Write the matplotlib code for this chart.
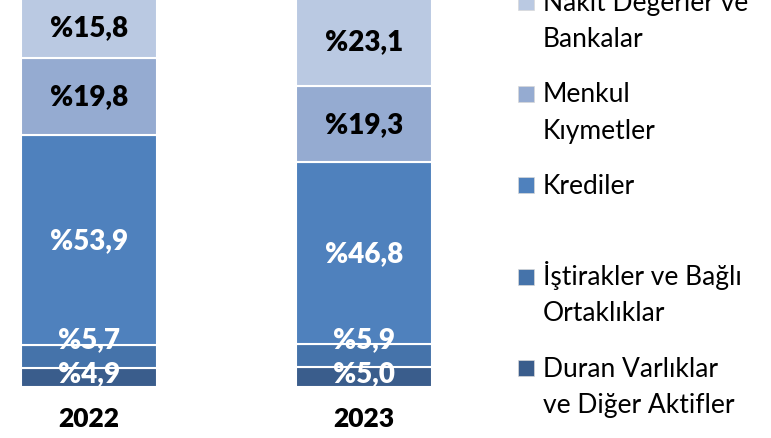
import matplotlib.pyplot as plt
from matplotlib.patches import Rectangle
import numpy as np

years = ['2022', '2023']
# stacked bottom -> top
categories = ['Duran Varlıklar\nve Diğer Aktifler', 'İştirakler ve Bağlı\nOrtaklıklar',
              'Krediler', 'Menkul\nKıymetler', 'Nakit Değerler ve\nBankalar']
duran = [4.9, 5.0]
istirak = [5.7, 5.9]
krediler = [53.9, 46.8]
menkul = [19.8, 19.3]
nakit = [15.8, 23.1]
series = [duran, istirak, krediler, menkul, nakit]

colors = ['#3A5D8C', '#4573AA', '#4F81BD', '#95ABD1', '#BAC9E2']
text_colors = ['white', 'white', 'white', 'black', 'black']
label_shift = [4, 17, 0, 0, 0]  # px upward from segment centre

plt.rcParams['font.family'] = ['Lato', 'DejaVu Sans']

W, H = 771, 439
fig = plt.figure(figsize=(W / 100, H / 100), dpi=100)
ax = fig.add_axes([0, 51.3 / H, 502 / W, 390 / H])

x = np.arange(len(years))
bottom = np.zeros(len(years))
for vals, c, tc, dy in zip(series, colors, text_colors, label_shift):
    ax.bar(x, vals, 0.493, bottom=bottom, color=c, edgecolor='white', linewidth=1.5)
    for xi, b, v in zip(x, bottom, vals):
        ax.annotate('%' + f'{v:.1f}'.replace('.', ','), (xi, b + v / 2),
                    xytext=(0, dy * 0.72), textcoords='offset points',
                    ha='center', va='center', fontsize=20, fontweight='heavy', color=tc)
    bottom += np.array(vals)

ax.set_ylim(0, 100)
ax.set_xlim(-0.3218, 1.4996)
ax.set_yticks([])
ax.set_xticks(x)
ax.set_xticklabels(years, fontsize=19, fontweight='heavy')
ax.tick_params(axis='x', length=0, pad=14)
for s in ax.spines.values():
    s.set_visible(False)

# legend drawn by hand (top -> bottom)
for i, (lab, c) in enumerate(zip(categories[::-1], colors[::-1])):
    base = 11 + 91.5 * i
    fig.patches.append(Rectangle((518 / W, 1 - base / H), 16 / W, 16 / H,
                                 transform=fig.transFigure, facecolor=c,
                                 edgecolor='#d8d8d8', linewidth=0.5))
    for j, line in enumerate(lab.split('\n')):
        fig.text(543 / W, 1 - (base + 36 * j) / H, line, fontsize=19, va='baseline')

fig.savefig('out.png', dpi=100)
